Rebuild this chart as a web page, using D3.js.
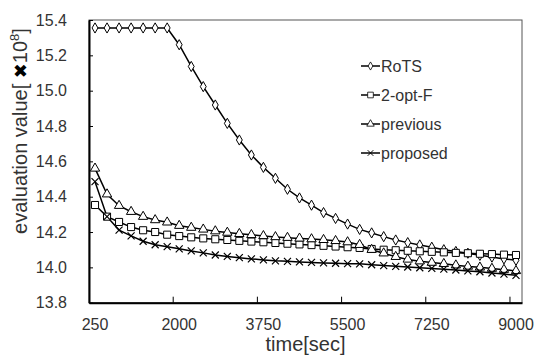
<!DOCTYPE html>
<html>
<head>
<meta charset="utf-8">
<script src="https://cdn.jsdelivr.net/npm/d3@7"></script>
<style>
  body { margin: 0; background: #fff; }
  svg { display: block; font-family: "Liberation Sans", Arial, sans-serif; }
</style>
</head>
<body>
<svg id="chart" width="537" height="358"></svg>
<script>
// time [sec] categories
const times = [250, 500, 750, 1000, 1250, 1500, 1750, 2000, 2250, 2500, 2750, 3000,
  3250, 3500, 3750, 4000, 4250, 4500, 4750, 5000, 5250, 5500, 5750, 6000,
  6250, 6500, 6750, 7000, 7250, 7500, 7750, 8000, 8250, 8500, 8750, 9000];
const xTickLabels = [250, 2000, 3750, 5500, 7250, 9000];
const yTicks = [13.8, 14.0, 14.2, 14.4, 14.6, 14.8, 15.0, 15.2, 15.4];

const rots = [15.355, 15.355, 15.355, 15.355, 15.355, 15.355, 15.355, 15.26, 15.137, 15.023,
  14.919, 14.815, 14.721, 14.636, 14.566, 14.504, 14.442, 14.393, 14.352, 14.31,
  14.277, 14.245, 14.215, 14.195, 14.174, 14.155, 14.14, 14.127, 14.114, 14.1,
  14.09, 14.08, 14.068, 14.058, 14.048, 14.04];
const twoOptF = [14.353, 14.287, 14.257, 14.228, 14.21, 14.2, 14.185, 14.177, 14.17, 14.164,
  14.159, 14.155, 14.15, 14.146, 14.142, 14.138, 14.134, 14.13, 14.126, 14.122,
  14.118, 14.114, 14.11, 14.104, 14.1, 14.097, 14.094, 14.091, 14.088, 14.085,
  14.082, 14.08, 14.077, 14.075, 14.072, 14.07];
const previous = [14.56, 14.414, 14.349, 14.315, 14.287, 14.268, 14.255, 14.236, 14.225, 14.215,
  14.205, 14.197, 14.19, 14.184, 14.178, 14.172, 14.168, 14.164, 14.16, 14.156,
  14.15, 14.143, 14.128, 14.1, 14.08, 14.06, 14.045, 14.035, 14.027, 14.02,
  14.012, 14.005, 14.0, 13.993, 13.987, 13.98];
const proposed = [14.485, 14.287, 14.211, 14.178, 14.148, 14.128, 14.117, 14.105, 14.093, 14.082,
  14.07, 14.062, 14.055, 14.048, 14.042, 14.037, 14.034, 14.031, 14.028, 14.025,
  14.023, 14.021, 14.02, 14.015, 14.01, 14.006, 14.002, 13.998, 13.994, 13.99,
  13.985, 13.98, 13.975, 13.968, 13.962, 13.955];

const series = [
  { name: 'RoTS', values: rots, marker: 'diamond' },
  { name: '2-opt-F', values: twoOptF, marker: 'square' },
  { name: 'previous', values: previous, marker: 'triangle' },
  { name: 'proposed', values: proposed, marker: 'cross' }
];

const svg = d3.select('#chart');
const margin = { top: 20, right: 15, bottom: 55.3, left: 89 };
const W = 537, H = 358;
const x = d3.scaleBand().domain(times).range([margin.left, W - margin.right]).padding(0);
const y = d3.scaleLinear().domain([13.8, 15.4]).range([H - margin.bottom, margin.top]);
const cx = d => x(d) + x.bandwidth() / 2;

const symbols = {
  diamond: d3.symbol().type(d3.symbolDiamond).size(30),
  square: d3.symbol().type(d3.symbolSquare).size(50),
  triangle: d3.symbol().type(d3.symbolTriangle).size(38)
};

function drawMarker(g, type) {
  if (type === 'cross') {
    g.append('path').attr('d', 'M-3.5,-3.5L3.5,3.5M-3.5,3.5L3.5,-3.5')
      .attr('stroke', '#000').attr('stroke-width', 1.2).attr('fill', 'none');
  } else {
    g.append('path').attr('d', symbols[type]())
      .attr('fill', '#fff').attr('stroke', '#000').attr('stroke-width', 1);
  }
}

// plot frame
svg.append('rect')
  .attr('x', margin.left).attr('y', margin.top)
  .attr('width', W - margin.right - margin.left)
  .attr('height', H - margin.bottom - margin.top)
  .attr('fill', 'none').attr('stroke', '#555').attr('stroke-width', 1);

// y axis
const yAxis = svg.append('g')
  .attr('transform', 'translate(' + margin.left + ',0)')
  .call(d3.axisLeft(y).tickValues(yTicks).tickFormat(d3.format('.1f'))
    .tickSizeInner(-4).tickSizeOuter(0).tickPadding(22));
yAxis.select('.domain').attr('stroke-width', 2);
yAxis.selectAll('text').attr('font-size', 16).attr('fill', '#333')
  .attr('font-family', '"Liberation Sans", Arial, sans-serif');

// x axis: labels at category centres, tick marks at category boundaries
const xAxis = svg.append('g')
  .attr('transform', 'translate(0,' + (H - margin.bottom) + ')')
  .call(d3.axisBottom(x).tickValues(xTickLabels).tickSize(0).tickPadding(16));
xAxis.select('.domain').attr('stroke-width', 2);
xAxis.selectAll('text').attr('font-size', 16).attr('fill', '#333')
  .attr('font-family', '"Liberation Sans", Arial, sans-serif');
xAxis.selectAll('.mark')
  .data(xTickLabels.slice(1))
  .enter().append('line')
  .attr('x1', d => x(d)).attr('x2', d => x(d))
  .attr('y1', 0).attr('y2', -6)
  .attr('stroke', '#000').attr('stroke-width', 1);

// series
const line = d3.line().x((d, i) => cx(times[i])).y(d => y(d));
series.forEach(s => {
  svg.append('path')
    .datum(s.values)
    .attr('d', line)
    .attr('fill', 'none').attr('stroke', '#000').attr('stroke-width', 1.5);
});
series.forEach(s => {
  s.values.forEach((v, i) => {
    const g = svg.append('g').attr('transform', 'translate(' + cx(times[i]) + ',' + y(v) + ')');
    drawMarker(g, s.marker);
  });
});

// legend
const legend = svg.append('g').attr('transform', 'translate(361,66)');
series.forEach((s, i) => {
  const g = legend.append('g').attr('transform', 'translate(0,' + (i * 29) + ')');
  g.append('line').attr('x1', 0).attr('x2', 19).attr('y1', 0).attr('y2', 0)
    .attr('stroke', '#000').attr('stroke-width', 1.5);
  drawMarker(g.append('g').attr('transform', 'translate(9.5,0) scale(0.8)'), s.marker);
  g.append('text').attr('x', 20).attr('y', 0).attr('dy', '0.35em')
    .attr('font-size', 16).attr('fill', '#333').text(s.name);
});

// axis titles
svg.append('text')
  .attr('x', (margin.left + W - margin.right) / 2).attr('y', 351)
  .attr('text-anchor', 'middle').attr('font-size', 20).attr('fill', '#333')
  .text('time[sec]');

const yt = svg.append('text')
  .attr('transform', 'translate(27,131) rotate(-90)')
  .attr('text-anchor', 'middle').attr('font-size', 20).attr('fill', '#333');
yt.append('tspan').text('evaluation value[ ');
yt.append('tspan').attr('font-family', '"DejaVu Sans", sans-serif').attr('font-weight', 'bold')
  .attr('fill', '#000').attr('font-size', 18).text('\u2716');
yt.append('tspan').text('10');
yt.append('tspan').attr('font-size', 13).attr('dy', -8).text('8');
yt.append('tspan').attr('dy', 8).text(']');
</script>
</body>
</html>
